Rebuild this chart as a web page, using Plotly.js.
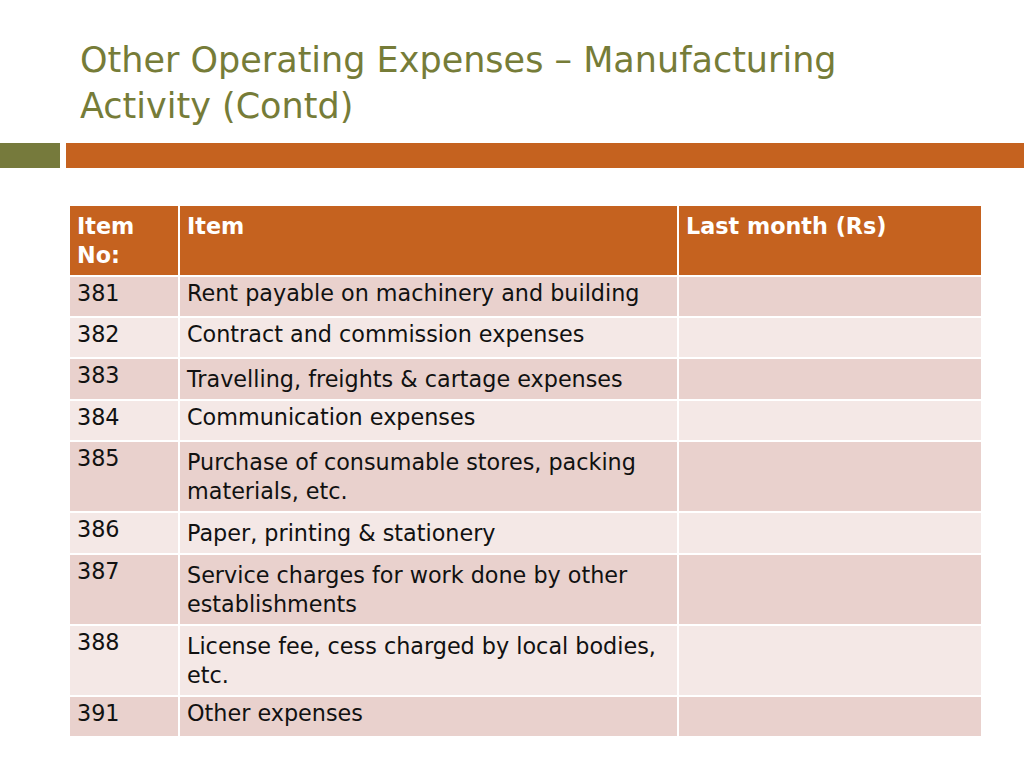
<!DOCTYPE html>
<html>
<head>
<meta charset="utf-8">
<script src="https://cdn.plot.ly/plotly-3.0.1.min.js"></script>
<style>
  html, body { margin: 0; padding: 0; background: #fff; }
  #slide { width: 1024px; height: 768px; }
</style>
</head>
<body>
<div id="slide"></div>
<script>
// table contents
var headers = ['<b>Item<br>No:</b>', '<b>Item</b>', '<b>Last month (Rs)</b>'];
var itemNos = ['381', '382', '383', '384', '385', '386', '387', '388', '391'];
var items = [
  'Rent payable on machinery and building',
  'Contract and commission expenses',
  'Travelling, freights & cartage expenses',
  'Communication expenses',
  'Purchase of consumable stores, packing<br>materials, etc.',
  'Paper, printing & stationery',
  'Service charges for work done by other<br>establishments',
  'License fee, cess charged by local bodies,<br>etc.',
  'Other expenses'
];
var lastMonth = ['', '', '', '', '', '', '', '', ''];

var W = 1024, H = 768;
var font = 'DejaVu Sans, Verdana, sans-serif';

var rowFill = itemNos.map(function (d, i) {
  return i % 2 === 0 ? '#e9d1cd' : '#f4e8e6';
});

var data = [{
  type: 'table',
  domain: {x: [69 / W, 982 / W], y: [0, 1 - 205 / H]},
  columnwidth: [110, 499, 304],
  header: {
    values: headers,
    align: 'left',
    height: 69,
    fill: {color: '#c5621f'},
    line: {color: '#ffffff', width: 2},
    font: {family: font, size: 22.3, color: '#ffffff'}
  },
  cells: {
    values: [itemNos, items, lastMonth],
    align: 'left',
    height: 41,
    fill: {color: [rowFill, rowFill, rowFill]},
    line: {color: '#ffffff', width: 2},
    font: {family: font, size: 22.3, color: '#111111'}
  }
}];

var layout = {
  width: W,
  height: H,
  margin: {l: 0, r: 0, t: 0, b: 0},
  paper_bgcolor: '#ffffff',
  showlegend: false,
  shapes: [
    {type: 'rect', xref: 'paper', yref: 'paper', x0: 0, x1: 60 / W,
     y0: 1 - 168 / H, y1: 1 - 143 / H, fillcolor: '#767a3c', line: {width: 0}},
    {type: 'rect', xref: 'paper', yref: 'paper', x0: 66 / W, x1: 1,
     y0: 1 - 168 / H, y1: 1 - 143 / H, fillcolor: '#c5621f', line: {width: 0}}
  ],
  annotations: [{
    xref: 'paper', yref: 'paper', x: 78 / W, y: 1 - 38 / H,
    xanchor: 'left', yanchor: 'top', align: 'left', showarrow: false,
    text: 'Other Operating Expenses \u2013 Manufacturing<br>Activity (Contd)',
    font: {family: font, size: 35, color: '#767c38'}
  }]
};

Plotly.newPlot('slide', data, layout, {displayModeBar: false, staticPlot: true});
</script>
</body>
</html>
